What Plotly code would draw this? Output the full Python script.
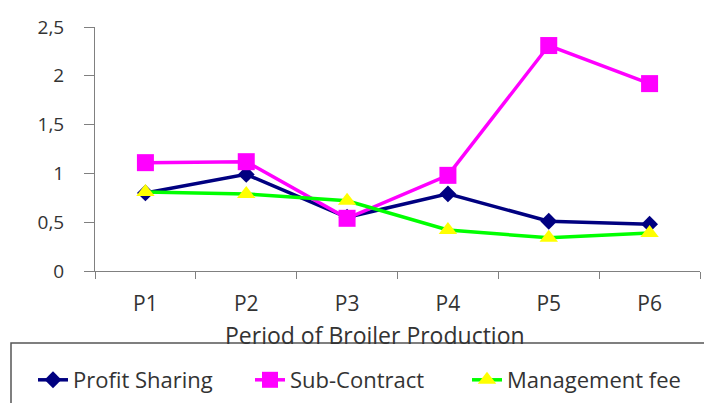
import plotly.graph_objects as go

periods = ["P1", "P2", "P3", "P4", "P5", "P6"]
profit_sharing = [0.80, 0.99, 0.55, 0.79, 0.51, 0.48]
sub_contract = [1.11, 1.12, 0.54, 0.98, 2.31, 1.92]
management_fee = [0.81, 0.79, 0.72, 0.42, 0.34, 0.39]

FONT = "'Open Sans', Lato, sans-serif"
TEXT = "#333333"
AXIS = "#808080"

# plot area in pixels: x 95..700, y 27..271
L, R, T, B = 95, 4, 27, 132
W, H = 704, 403
PW, PH = W - L - R, H - T - B


def px_x(p):
    return (p - L) / PW


def px_y(p):
    return (H - B - p) / PH


fig = go.Figure()
fig.add_trace(go.Scatter(
    x=periods, y=profit_sharing, name="Profit Sharing", mode="lines+markers",
    line=dict(color="#000080", width=3.5),
    marker=dict(symbol="diamond", size=13, color="#000080"),
))
fig.add_trace(go.Scatter(
    x=periods, y=sub_contract, name="Sub-Contract", mode="lines+markers",
    line=dict(color="#FF00FF", width=3.5),
    marker=dict(symbol="square", size=17, color="#FF00FF"),
))
fig.add_trace(go.Scatter(
    x=periods, y=management_fee, name="Management fee", mode="lines+markers",
    line=dict(color="#00FF00", width=3.5),
    marker=dict(symbol="triangle-up", size=16, color="#FFFF00"),
))

fig.update_layout(
    width=W, height=H,
    margin=dict(l=L, r=R, t=T, b=B, autoexpand=False),
    paper_bgcolor="white", plot_bgcolor="white",
    separators=",.",
    font=dict(family=FONT, size=20, color=TEXT),
    legend=dict(
        orientation="h", x=px_x(33), y=px_y(359), xanchor="left", yanchor="top",
        borderwidth=0, bgcolor="rgba(0,0,0,0)",
        font=dict(size=22, color=TEXT),
        itemwidth=30, entrywidth=172, tracegroupgap=0,
    ),
    xaxis=dict(
        type="category", range=[-0.5, 5.5], automargin=False,
        showline=True, linecolor=AXIS, linewidth=1,
        ticks="outside", tickson="boundaries", ticklen=7, tickcolor=AXIS,
        ticklabelstandoff=14,
        showgrid=False, tickfont=dict(size=21, color=TEXT),
    ),
    yaxis=dict(
        range=[0, 2.5], dtick=0.5, automargin=False,
        showline=True, linecolor=AXIS, linewidth=1,
        ticks="outside", ticklen=10, tickcolor=AXIS,
        ticklabelstandoff=16,
        showgrid=False, zeroline=False, tickfont=dict(size=19, color=TEXT),
    ),
    annotations=[dict(
        text="Period of Broiler Production", xref="paper", yref="paper",
        x=px_x(375), y=px_y(335), xanchor="center", yanchor="middle",
        showarrow=False, font=dict(size=23, color=TEXT),
    )],
    shapes=[dict(
        type="rect", xref="paper", yref="paper",
        x0=px_x(11), x1=px_x(720), y0=px_y(343), y1=px_y(420),
        line=dict(color="#555555", width=1.5), fillcolor="white", layer="below",
    )],
)

fig.write_html("out.html")
